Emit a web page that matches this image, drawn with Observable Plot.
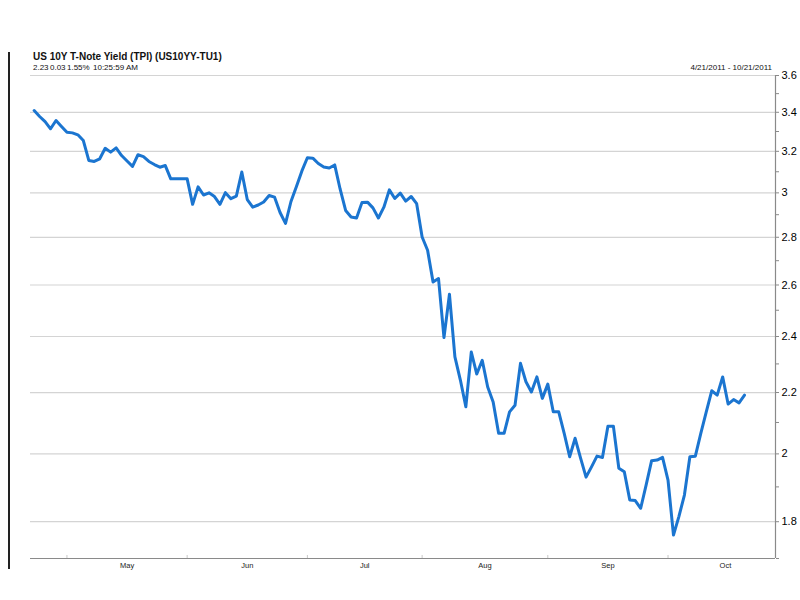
<!DOCTYPE html>
<html>
<head>
<meta charset="utf-8">
<script src="https://cdn.jsdelivr.net/npm/d3@7"></script>
<script src="https://cdn.jsdelivr.net/npm/@observablehq/plot@0.6"></script>
<style>
  html, body { margin: 0; padding: 0; background: #fff; }
  #wrap { position: relative; width: 800px; height: 600px; font-family: "Liberation Sans", Arial, sans-serif; }
  #chart { position: absolute; left: 0; top: 0; }
  .t { position: absolute; line-height: 1; white-space: nowrap; color: #111; }
  #leftbar { position: absolute; left: 8px; top: 52px; width: 2px; height: 517px; background: #222; }
</style>
</head>
<body>
<div id="wrap">
  <div id="chart"></div>
  <div id="leftbar"></div>
  <div class="t" style="left:33px;top:51.5px;font-size:10px;font-weight:bold;">US 10Y T-Note Yield (TPI) (US10YY-TU1)</div>
  <div class="t" style="left:33px;top:64.3px;font-size:8px;">2.23</div>
  <div class="t" style="left:50px;top:64.3px;font-size:8px;">0.03</div>
  <div class="t" style="left:67px;top:64.3px;font-size:8px;">1.55%</div>
  <div class="t" style="left:93px;top:64.3px;font-size:8px;">10:25:59 AM</div>
  <div class="t" style="right:28px;top:64px;font-size:8px;">4/21/2011 - 10/21/2011</div>
</div>
<script>
// Daily (weekday) yield values, 4/22/2011 .. 10/21/2011 (weekday index 1..131)
const yieldValues = [
  3.409, 3.378, 3.351, 3.314, 3.357, 3.326, 3.296, 3.293, 3.283, 3.254,
  3.155, 3.150, 3.163, 3.215, 3.196, 3.217, 3.179, 3.152, 3.126, 3.183,
  3.174, 3.150, 3.135, 3.122, 3.130, 3.066, 3.066, 3.066, 3.066, 2.947,
  3.028, 2.990, 3.000, 2.983, 2.947, 3.001, 2.973, 2.985, 3.099, 2.969,
  2.934, 2.944, 2.958, 2.988, 2.980, 2.910, 2.861, 2.960, 3.030, 3.104,
  3.168, 3.166, 3.140, 3.123, 3.118, 3.133, 3.017, 2.919, 2.890, 2.885,
  2.956, 2.957, 2.931, 2.885, 2.934, 3.014, 2.974, 2.999, 2.962, 2.983,
  2.950, 2.801, 2.744, 2.612, 2.626, 2.396, 2.563, 2.325, 2.243, 2.152,
  2.343, 2.264, 2.313, 2.219, 2.168, 2.065, 2.065, 2.135, 2.157, 2.302,
  2.237, 2.202, 2.254, 2.180, 2.229, 2.135, 2.135, 2.065, 1.991, 2.049,
  1.987, 1.929, 1.960, 1.993, 1.989, 2.088, 2.088, 1.956, 1.945, 1.862,
  1.860, 1.838, 1.906, 1.979, 1.981, 1.989, 1.920, 1.763, 1.815, 1.876,
  1.991, 1.993, 2.065, 2.135, 2.206, 2.191, 2.254, 2.161, 2.176, 2.165,
  2.191
];
// Weekday index of the first trading day of each month
const monthStarts = [7, 29, 51, 72, 95, 117];
// Mid-month label positions (weekday index)
const monthMids = [18, 40, 61.5, 83.5, 106, 127.5];
const monthLabels = ["May", "Jun", "Jul", "Aug", "Sep", "Oct"];
const yMajorTicks = [1.8, 2, 2.2, 2.4, 2.6, 2.8, 3, 3.2, 3.4, 3.6];
const yMinorTicks = [1.7, 1.9, 2.1, 2.3, 2.5, 2.7, 2.9, 3.1, 3.3, 3.5];
const xDomain = [0.33, 136.67];
const yDomain = [1.70, 3.6];

const labelAt = new Map(monthMids.map((m, i) => [m, monthLabels[i]]));

const chart = Plot.plot({
  width: 800,
  height: 600,
  marginLeft: 30,
  marginRight: 25,
  marginTop: 75,
  marginBottom: 42,
  style: { fontFamily: "'Liberation Sans', Arial, sans-serif", background: "transparent", color: "#000" },
  x: { type: "linear", domain: xDomain },
  y: { type: "log", domain: yDomain },
  marks: [
    Plot.ruleY(yMajorTicks, { stroke: "#d4d4d4", strokeWidth: 1.2 }),
    Plot.ruleY([yDomain[0]], { stroke: "#8a8a8a", strokeWidth: 1.2 }),
    Plot.ruleX([xDomain[1]], { stroke: "#8a8a8a", strokeWidth: 1.2 }),
    Plot.ruleX(monthStarts, { y1: 1.70, y2: 1.708, stroke: "#c8c8c8" }),
    Plot.axisY({ anchor: "right", ticks: yMinorTicks, tickFormat: () => "", tickSize: 3, stroke: "#8a8a8a", label: null }),
    Plot.axisY({ anchor: "right", ticks: yMajorTicks, tickFormat: d => String(d), tickSize: 3, tickPadding: 3, fontSize: 11, stroke: "#8a8a8a", fill: "#000", label: null }),
    Plot.axisX({ anchor: "bottom", ticks: monthMids, tickFormat: d => labelAt.get(d), tickSize: 0, tickPadding: 4, fontSize: 7.5, fill: "#222", label: null }),
    Plot.line(yieldValues, { x: (d, i) => i + 1, y: d => d, stroke: "#1b75d0", strokeWidth: 3, strokeLinejoin: "round", strokeLinecap: "round" })
  ]
});
document.getElementById("chart").appendChild(chart);
</script>
</body>
</html>
